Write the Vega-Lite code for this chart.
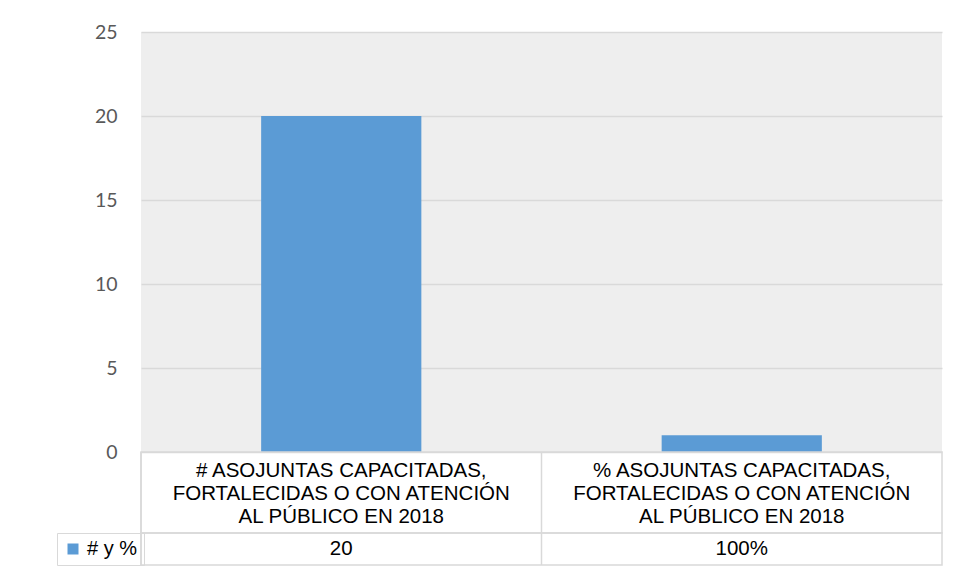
{
  "$schema": "https://vega.github.io/schema/vega-lite/v6.json",
  "background": "white",
  "padding": {"left": 56, "top": 22, "right": 5, "bottom": 5},
  "spacing": 0,
  "bounds": "flush",
  "datasets": {
    "rows": [
      {"cat": "A", "label": "# ASOJUNTAS CAPACITADAS,\nFORTALECIDAS O CON ATENCIÓN\nAL PÚBLICO EN 2018", "value": 20, "shown": "20", "series": "# y %"},
      {"cat": "B", "label": "% ASOJUNTAS CAPACITADAS,\nFORTALECIDAS O CON ATENCIÓN\nAL PÚBLICO EN 2018", "value": 1, "shown": "100%", "series": "# y %"}
    ]
  },
  "data": {"name": "rows"},
  "config": {"view": {"stroke": null}, "font": "Liberation Sans"},
  "vconcat": [
    {
      "width": 801,
      "height": 420,
      "view": {"fill": "#eeeeee", "stroke": null},
      "mark": {"type": "bar", "color": "#5B9BD5"},
      "encoding": {
        "x": {"field": "cat", "type": "nominal", "sort": null, "scale": {"paddingInner": 0.6, "paddingOuter": 0.3}, "axis": null},
        "y": {"field": "value", "type": "quantitative", "scale": {"domain": [0, 25], "nice": false},
          "axis": {"values": [0, 5, 10, 15, 20, 25], "title": null, "domain": false, "ticks": false, "labelPadding": 24, "labelFont": "Lato", "labelFontSize": 19.5, "labelColor": "#595959", "gridColor": "#d9d9d9", "gridWidth": 1.3}}
      }
    },
    {
      "width": 801,
      "height": 81,
      "view": {"stroke": "#d9d9d9", "strokeWidth": 1.5},
      "encoding": {
        "x": {"field": "cat", "type": "nominal", "sort": null, "scale": {"paddingInner": 0, "paddingOuter": 0}, "axis": null}
      },
      "layer": [
        {"mark": {"type": "rule", "color": "#d9d9d9", "strokeWidth": 1.5}, "encoding": {"x": {"field": "cat", "type": "nominal", "sort": null, "bandPosition": 0, "axis": null}}},
        {"mark": {"type": "text", "lineBreak": "\n", "fontSize": 20.5, "lineHeight": 23, "dy": -22, "color": "#000000"}, "encoding": {"text": {"field": "label"}}}
      ]
    },
    {
      "width": 801,
      "height": 32,
      "view": {"stroke": "#d9d9d9", "strokeWidth": 1.5},
      "encoding": {
        "x": {"field": "cat", "type": "nominal", "sort": null, "scale": {"paddingInner": 0, "paddingOuter": 0}, "axis": null}
      },
      "layer": [
        {"mark": {"type": "rule", "color": "#d9d9d9", "strokeWidth": 1.5}, "encoding": {"x": {"field": "cat", "type": "nominal", "sort": null, "bandPosition": 0, "axis": null}}},
        {"mark": {"type": "text", "fontSize": 20.5, "color": "#000000"}, "encoding": {"text": {"field": "shown"}}},
        {"mark": {"type": "square", "opacity": 0},
          "encoding": {
            "color": {"field": "series", "type": "nominal", "scale": {"range": ["#5B9BD5"]},
              "legend": {"orient": "none", "legendX": -84, "legendY": 501, "title": null, "symbolType": "square", "symbolOpacity": 1, "symbolSize": 121, "symbolStrokeWidth": 0, "labelFontSize": 20, "labelFont": "Liberation Sans", "labelColor": "#000000", "labelOffset": 4, "strokeColor": "#d9d9d9", "padding": 6}}
          }
        }
      ]
    }
  ]
}
